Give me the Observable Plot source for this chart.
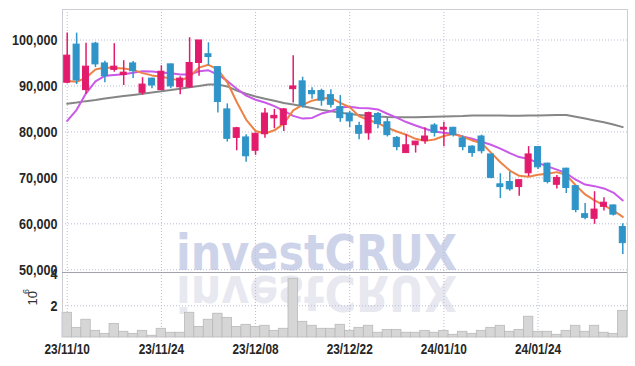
<!DOCTYPE html>
<html>
<head>
<meta charset="utf-8">
<script src="https://cdn.jsdelivr.net/npm/d3@7"></script>
<script src="https://cdn.jsdelivr.net/npm/@observablehq/plot@0.6"></script>
<style>
  html, body { margin: 0; padding: 0; background: #ffffff; }
  #chart { position: relative; width: 635px; height: 366px; overflow: hidden; background: #ffffff; }
  #chart .layer { position: absolute; left: 0; }
  #chart svg { overflow: visible; }
  #wm text { font-family: "DejaVu Sans", sans-serif; font-weight: 700; font-size: 50px; }
</style>
</head>
<body>
<div id="chart">
  <svg class="layer" id="wm" width="635" height="366" style="top:0">
    <text x="316.5" y="270" text-anchor="middle" textLength="281" lengthAdjust="spacingAndGlyphs" fill="#cdd4ea">investCRUX</text>
    <text x="316.5" y="270" text-anchor="middle" textLength="281" lengthAdjust="spacingAndGlyphs" fill="#e8e8f0" transform="translate(0,545.5) scale(1,-1)">investCRUX</text>
  </svg>
  <div class="layer" id="pricePanel" style="top:0"></div>
  <div class="layer" id="volPanel" style="top:262px"></div>
</div>
<script>
// ---- data ----
const dates = [
  "23/11/10","23/11/13","23/11/14","23/11/15","23/11/16","23/11/17","23/11/20","23/11/21","23/11/22","23/11/23",
  "23/11/24","23/11/27","23/11/28","23/11/29","23/11/30","23/12/01","23/12/04","23/12/05","23/12/06","23/12/07",
  "23/12/08","23/12/11","23/12/12","23/12/13","23/12/14","23/12/15","23/12/18","23/12/19","23/12/20","23/12/21",
  "23/12/22","23/12/26","23/12/27","23/12/28","24/01/02","24/01/03","24/01/04","24/01/05","24/01/08","24/01/09",
  "24/01/10","24/01/11","24/01/12","24/01/15","24/01/16","24/01/17","24/01/18","24/01/19","24/01/22","24/01/23",
  "24/01/24","24/01/25","24/01/26","24/01/29","24/01/30","24/01/31","24/02/01","24/02/02","24/02/05","24/02/06"
];
const open = [
  90700, 99000, 89100, 99200, 94900, 93500, 92400, 94900, 88500, 91600,
  89100, 94700, 89700, 89700, 95000, 96900, 94100, 84900, 78700, 78800,
  75900, 79500, 82950, 81500, 89300, 91000, 88900, 88900, 88000, 85400,
  84000, 81300, 79700, 83900, 82100, 78700, 75400, 77100, 78000, 81400,
  80500, 80900, 78600, 76800, 79000, 75100, 68600, 69100, 68000, 71000,
  76700, 73100, 68500, 72000, 68200, 62100, 61100, 63700, 64000, 59300
];
const high = [
  101500, 101500, 99300, 99500, 95400, 99200, 95500, 95300, 91800, 91700,
  94400, 94700, 92000, 100500, 99900, 99400, 94100, 86100, 81000, 79400,
  79700, 85100, 84900, 85100, 96600, 91900, 89600, 89300, 89200, 87900,
  84500, 82100, 84300, 84200, 83000, 79000, 79400, 77900, 80900, 81800,
  82100, 81000, 79100, 77000, 79300, 75100, 70900, 71300, 69500, 76800,
  76800, 73200, 70500, 72100, 68300, 64400, 67000, 65700, 64100, 60000
];
const low = [
  90500, 90300, 88200, 94000, 90700, 93000, 90100, 91600, 88000, 89400,
  89000, 89400, 88100, 89500, 92100, 94500, 84100, 77800, 75900, 73400,
  74900, 78600, 80700, 80100, 86300, 85200, 87100, 85600, 85200, 82100,
  80900, 78300, 78200, 80700, 78900, 75900, 75400, 75400, 77300, 78900,
  76800, 78900, 75900, 74500, 75200, 69800, 65500, 67100, 66000, 70300,
  71800, 68700, 67600, 66600, 62400, 60900, 59900, 62800, 61700, 53300
];
const close = [
  96600, 91200, 94200, 94700, 92100, 94200, 92900, 93200, 90300, 90100,
  93100, 89900, 91600, 95000, 99900, 96300, 86500, 78500, 80800, 74700,
  79600, 84000, 83500, 84900, 89900, 85700, 88200, 86800, 85900, 83000,
  82300, 79600, 84100, 81700, 79300, 76700, 77100, 77900, 79000, 79800,
  80900, 79300, 76700, 75400, 75800, 70000, 68000, 67500, 69500, 75100,
  72300, 69100, 70000, 67800, 63000, 61300, 63100, 64600, 62000, 55800
];
const volume = [
  1560000, 610000, 1120000, 420000, 230000, 860000, 360000, 230000, 420000, 110000,
  550000, 300000, 300000, 1560000, 670000, 1120000, 1500000, 1240000, 670000, 800000,
  670000, 740000, 420000, 550000, 3700000, 990000, 740000, 550000, 550000, 800000,
  420000, 610000, 740000, 300000, 480000, 480000, 300000, 300000, 420000, 300000,
  420000, 170000, 360000, 230000, 420000, 610000, 740000, 360000, 480000, 1310000,
  360000, 360000, 170000, 420000, 740000, 360000, 740000, 300000, 230000, 1680000
];
const ma5 = [
  91100, 90900, 91800, 93600, 94000, 93900, 93800, 93500, 92800, 92300,
  92000, 91600, 91200, 92000, 94000, 94600, 93600, 90800, 86500, 82700,
  80200, 79650, 80350, 81800, 84700, 85900, 86800, 87250, 87400, 86300,
  85400, 83400, 82600, 81900, 80900, 80100, 79400, 78500, 78050, 78350,
  79100, 79600, 78950, 78150, 77600, 75500, 73400, 71600, 70450, 70250,
  70700, 70900, 71250, 70600, 68400, 66400, 65100, 64000, 62900, 61500
];
const ma20 = [
  82400, 84800, 88400, 91000, 92200, 92400, 92550, 92900, 93200, 93150,
  92950, 92750, 92500, 92500, 93200, 93400, 92450, 91100, 89400, 87900,
  87000, 86400, 85600, 84600, 83500, 82900, 83050, 84000, 84500, 85300,
  85500, 85200, 85150, 84900, 83950, 83100, 82150, 81400, 80700, 80100,
  79800, 79600, 79000, 78500, 77850, 77200, 76350, 75400, 74530, 74100,
  73250, 72500, 71800, 71000, 69600, 68550, 68200, 67700, 66800, 65100
];
const ma60 = [
  86150, 86400, 86700, 86950, 87250, 87550, 87800, 88050, 88300, 88600,
  88850, 89100, 89400, 89700, 90000, 90300, 90300, 89900, 89000, 88300,
  87700, 87200, 86800, 86300, 85950, 85600, 85200, 84800, 84500, 84200,
  83900, 83700, 83500, 83350, 83250, 83200, 83200, 83200, 83250, 83300,
  83350, 83400, 83450, 83550, 83600, 83600, 83550, 83500, 83500, 83550,
  83600, 83650, 83700, 83700, 83300, 82900, 82500, 82100, 81600, 81050
];
const priceTicks = [50000, 60000, 70000, 80000, 90000, 100000];
const volumeTicks = [2000000, 4000000];
const volumeTickLabels = ["2", "4"];
const xTickIndex = [0, 10, 20, 30, 40, 50];
const xTickLabels = ["23/11/10", "23/11/24", "23/12/08", "23/12/22", "24/01/10", "24/01/24"];

// ---- table built from the arrays ----
const rows = dates.map((d, i) => ({
  i, date: d, open: open[i], high: high[i], low: low[i], close: close[i],
  volume: volume[i], ma5: ma5[i], ma20: ma20[i], ma60: ma60[i]
}));
const up = rows.filter(d => d.close >= d.open);
const down = rows.filter(d => d.close < d.open);

const upColor = "#e31b6c";
const downColor = "#2f94c8";
const gridColor = "#b7bbd6";
const frameColor = "#cdcdd3";
const labelColor = "#262626";
const fontFamily = '"Liberation Sans", Arial, sans-serif';
const xOpts = {type: "linear", domain: [-0.5, dates.length - 0.5], axis: null};
const fmt = d3.format(",");

// squeeze tick label glyphs horizontally (condensed look), keeping them real text
function condense(svg, markIndexes, sx) {
  const groups = svg.querySelectorAll('g[aria-label="text"]');
  markIndexes.forEach(k => {
    const g = groups[k];
    if (!g) return;
    g.querySelectorAll("text").forEach(t => {
      const tr = t.getAttribute("transform");
      if (tr) {
        t.setAttribute("transform", tr + ` scale(${sx},1)`);
      } else {
        const x = parseFloat(t.getAttribute("x"));
        if (!isNaN(x) && !String(t.getAttribute("x")).includes("em")) {
          t.setAttribute("x", "0");
          const y = t.getAttribute("y");
          const yNum = parseFloat(y);
          if (y != null && !String(y).includes("em") && !isNaN(yNum)) {
            t.setAttribute("y", "0");
            t.setAttribute("transform", `translate(${x},${yNum}) scale(${sx},1)`);
          } else {
            t.setAttribute("transform", `translate(${x},0) scale(${sx},1)`);
          }
        }
      }
    });
  });
}

const price = Plot.plot({
  width: 635, height: 273,
  marginLeft: 62, marginRight: 8, marginTop: 9, marginBottom: 1,
  x: xOpts,
  y: {domain: [49410, 106640], axis: null},
  style: {background: "transparent", fontFamily, overflow: "visible"},
  marks: [
    Plot.ruleY(priceTicks, {stroke: gridColor, strokeDasharray: "1,2"}),
    Plot.ruleX(xTickIndex, {stroke: gridColor, strokeDasharray: "1,2"}),
    Plot.frame({stroke: frameColor}),
    Plot.line(rows, {x: "i", y: "ma60", stroke: "#868686", strokeWidth: 2}),
    Plot.line(rows, {x: "i", y: "ma20", stroke: "#ca58e8", strokeWidth: 2}),
    Plot.line(rows, {x: "i", y: "ma5", stroke: "#ee8246", strokeWidth: 2}),
    Plot.ruleX(up, {x: "i", y1: "low", y2: "high", stroke: upColor, strokeWidth: 1.5}),
    Plot.ruleX(down, {x: "i", y1: "low", y2: "high", stroke: downColor, strokeWidth: 1.5}),
    Plot.rectY(up, {x1: d => d.i - 0.32, x2: d => d.i + 0.32, y1: "open", y2: "close", fill: upColor, stroke: upColor, strokeWidth: 1}),
    Plot.rectY(down, {x1: d => d.i - 0.32, x2: d => d.i + 0.32, y1: "open", y2: "close", fill: downColor, stroke: downColor, strokeWidth: 1}),
    Plot.text(priceTicks, {y: d => d, text: d => fmt(d), frameAnchor: "left", dx: -5, textAnchor: "end", lineAnchor: "middle", fontSize: 15, fontWeight: "bold", fill: labelColor})
  ]
});
condense(price, [0], 0.84);
document.getElementById("pricePanel").appendChild(price);

const vol = Plot.plot({
  width: 635, height: 104,
  marginLeft: 62, marginRight: 8, marginTop: 10, marginBottom: 29,
  x: xOpts,
  y: {domain: [0, 4100000], axis: null},
  style: {background: "transparent", fontFamily, overflow: "visible"},
  marks: [
    Plot.ruleY([volumeTicks[0]], {stroke: gridColor, strokeDasharray: "1,2"}),
    Plot.ruleX(xTickIndex, {stroke: gridColor, strokeDasharray: "1,2"}),
    Plot.rectY(rows, {x1: d => d.i - 0.5, x2: d => d.i + 0.5, y: "volume", fill: "#d6d6d6", stroke: "#b9b9b9", strokeWidth: 0.8}),
    Plot.ruleX([-0.5, dates.length - 0.5], {stroke: frameColor}),
    Plot.ruleY([4100000], {stroke: "#a2a2aa"}),
    Plot.text(volumeTicks, {y: d => d, text: (d, k) => volumeTickLabels[k], frameAnchor: "left", dx: -5, textAnchor: "end", lineAnchor: "middle", fontSize: 15, fontWeight: "bold", fill: labelColor}),
    Plot.text(["10"], {y: () => 2020000, text: d => d, frameAnchor: "left", dx: -29.5, rotate: -90, lineAnchor: "middle", fontSize: 13, fill: "#333333"}),
    Plot.text(["6"], {y: () => 2020000, text: d => d, frameAnchor: "left", dx: -36, dy: -11.5, rotate: -90, lineAnchor: "middle", fontSize: 9, fill: "#333333"}),
    Plot.text(xTickIndex, {x: d => d, text: (d, k) => xTickLabels[k], frameAnchor: "bottom", dy: 11.5, lineAnchor: "middle", fontSize: 15, fontWeight: "bold", fill: labelColor})
  ]
});
condense(vol, [0], 0.84);
condense(vol, [3], 0.79);
document.getElementById("volPanel").appendChild(vol);
</script>
</body>
</html>
